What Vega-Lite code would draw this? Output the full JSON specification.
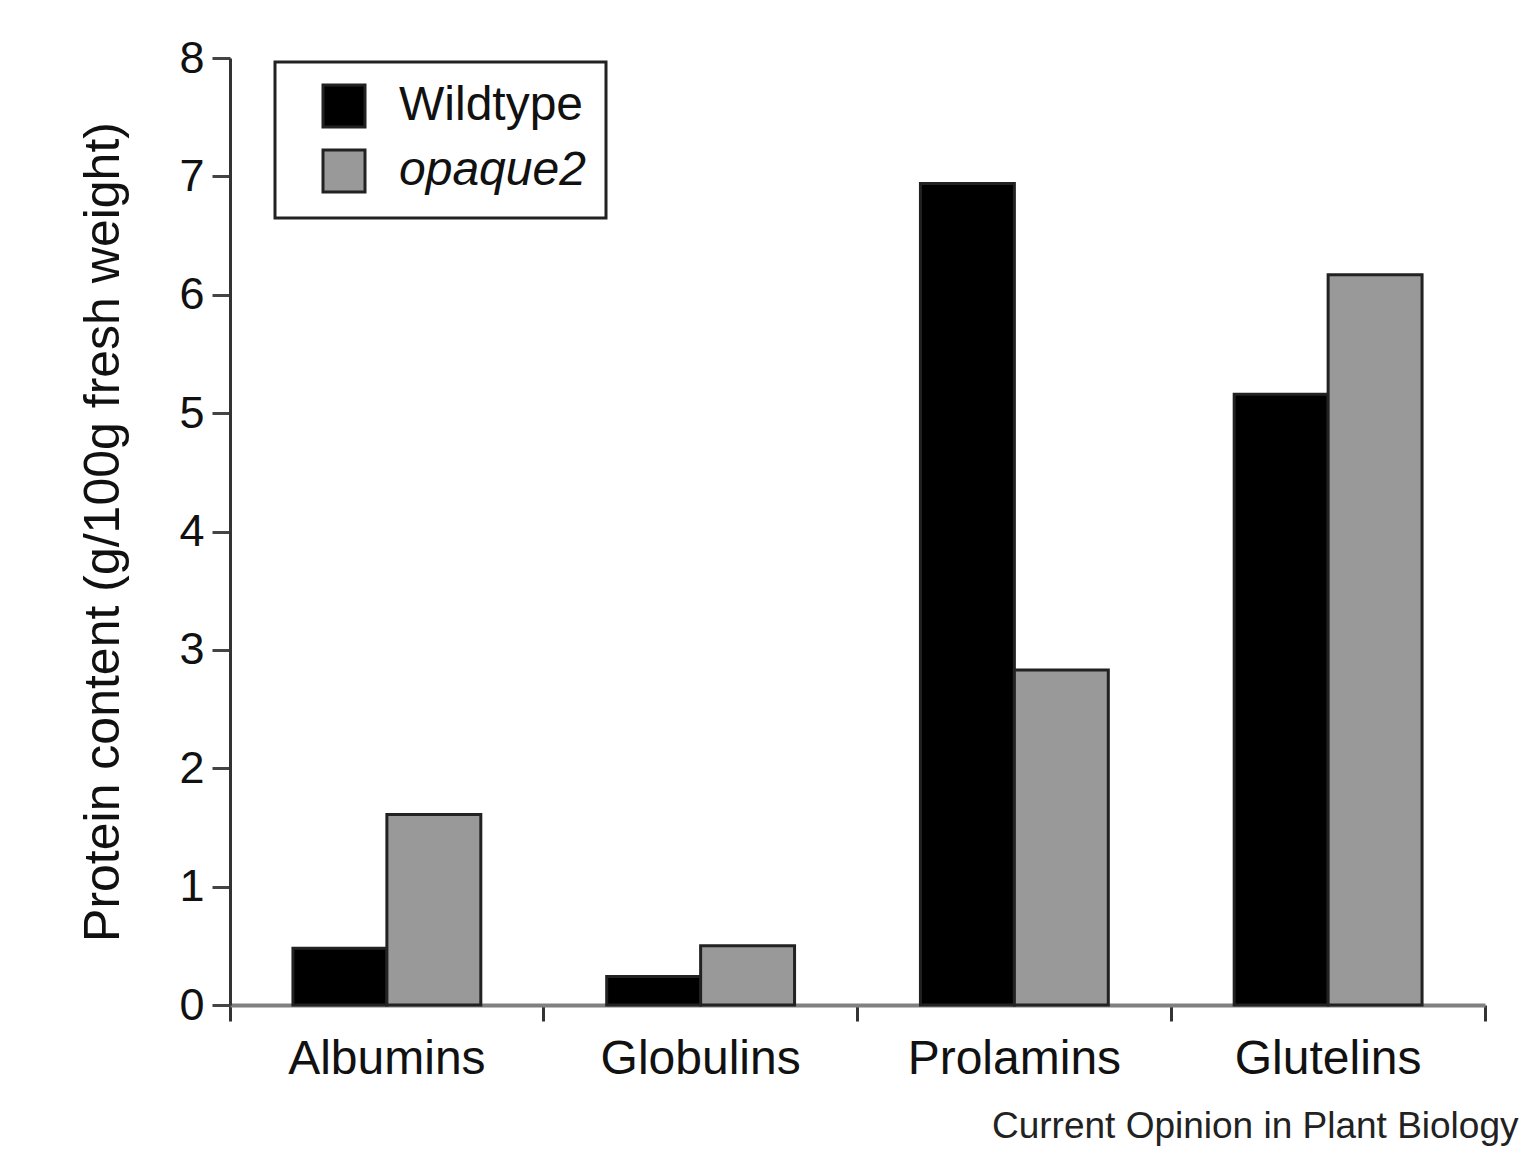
{
  "$schema": "https://vega.github.io/schema/vega-lite/v6.json",
  "width": 1255,
  "height": 947,
  "autosize": {"type": "none"},
  "padding": {"left": 230, "top": 58, "right": 37, "bottom": 154},
  "background": "white",
  "title": {"text": "Current Opinion in Plant Biology", "orient": "bottom", "anchor": "end", "fontSize": 37, "font": "Liberation Sans", "fontWeight": "normal", "color": "#222", "offset": 26, "dx": 32},
  "data": {"values": [
    {"protein": "Albumins", "genotype": "Wildtype", "value": 0.48},
    {"protein": "Albumins", "genotype": "opaque2", "value": 1.61},
    {"protein": "Globulins", "genotype": "Wildtype", "value": 0.24},
    {"protein": "Globulins", "genotype": "opaque2", "value": 0.5},
    {"protein": "Prolamins", "genotype": "Wildtype", "value": 6.94},
    {"protein": "Prolamins", "genotype": "opaque2", "value": 2.83},
    {"protein": "Glutelins", "genotype": "Wildtype", "value": 5.16},
    {"protein": "Glutelins", "genotype": "opaque2", "value": 6.17}
  ]},
  "mark": {"type": "bar", "stroke": "#222", "strokeWidth": 3},
  "encoding": {
    "x": {"field": "protein", "type": "nominal", "sort": ["Albumins", "Globulins", "Prolamins", "Glutelins"],
      "scale": {"paddingInner": 0, "paddingOuter": 0},
      "axis": {"title": null, "labelAngle": 0, "labelFontSize": 48, "labelFont": "Liberation Sans", "labelColor": "#111", "labelPadding": 14, "labelLimit": 0,
        "bandPosition": 1, "tickExtra": true, "tickSize": 16, "tickWidth": 3, "tickColor": "#333", "domainColor": "#808080", "domainWidth": 4}},
    "xOffset": {"field": "genotype", "type": "nominal", "sort": ["Wildtype", "opaque2"], "scale": {"paddingInner": 0, "paddingOuter": 0.67}},
    "y": {"field": "value", "type": "quantitative", "scale": {"domain": [0, 8]},
      "axis": {"title": "Protein content (g/100g fresh weight)", "titleFontSize": 50, "titleFont": "Liberation Sans", "titleFontWeight": "normal", "titleColor": "#111", "titlePadding": 50,
        "labelFontSize": 45, "labelFont": "Liberation Sans", "labelColor": "#111", "labelPadding": 8, "tickSize": 18, "tickWidth": 3, "tickColor": "#444",
        "domainColor": "#333", "domainWidth": 3, "grid": false, "values": [0, 1, 2, 3, 4, 5, 6, 7, 8]}},
    "color": {"field": "genotype", "type": "nominal", "sort": ["Wildtype", "opaque2"],
      "scale": {"domain": ["Wildtype", "opaque2"], "range": ["#000000", "#999999"]},
      "legend": {"orient": "none", "legendX": 45, "legendY": 4, "title": null, "symbolType": "square", "symbolSize": 1764,
        "symbolStrokeColor": "#222", "symbolStrokeWidth": 3, "symbolOpacity": 1,
        "labelFontSize": 48, "labelFont": "Liberation Sans", "labelColor": "#111", "labelOffset": 31, "labelLimit": 0,
        "padding": 20, "rowPadding": 11, "symbolOffset": 25, "strokeColor": "#222", "fillColor": "white",
        "encode": {
          "legend": {"update": {"strokeWidth": {"value": 3}}},
          "labels": {"update": {"fontStyle": {"signal": "datum.value === 'opaque2' ? 'italic' : 'normal'"}}}
        }}}
  },
  "config": {"view": {"stroke": null}}
}
